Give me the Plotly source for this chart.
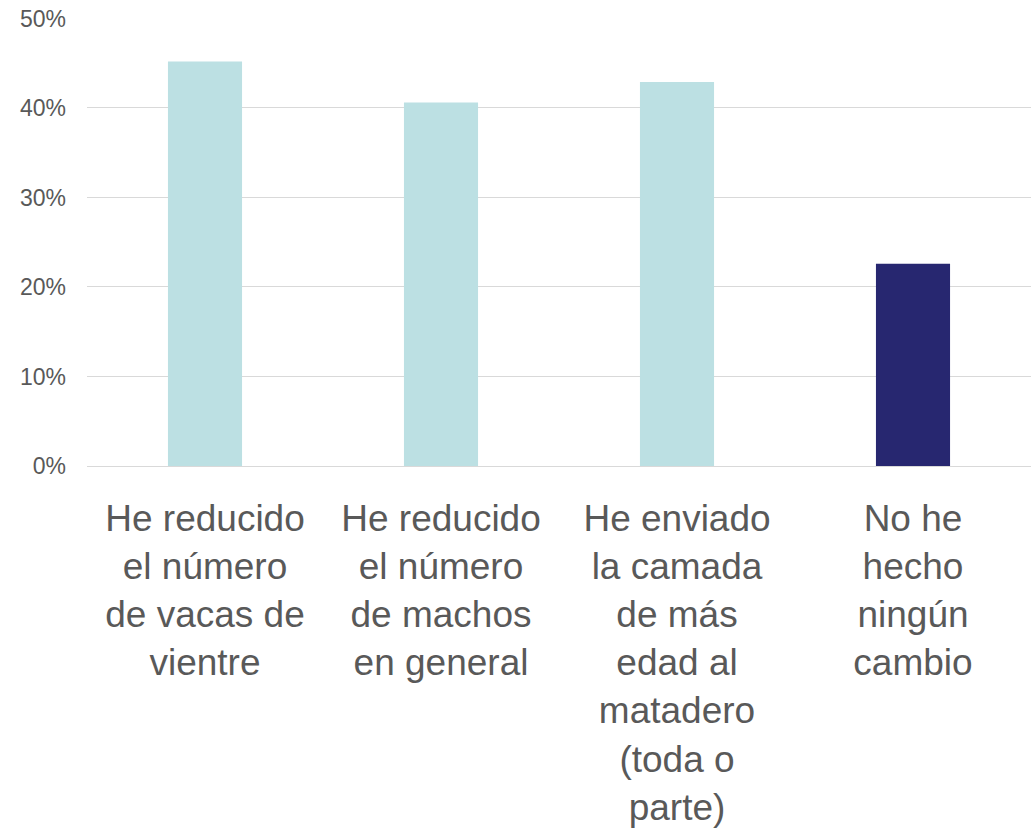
import plotly.graph_objects as go

# Survey answers (share of respondents)
categories = [
    "He reducido<br>el número<br>de vacas de<br>vientre",
    "He reducido<br>el número<br>de machos<br>en general",
    "He enviado<br>la camada<br>de más<br>edad al<br>matadero<br>(toda o<br>parte)",
    "No he<br>hecho<br>ningún<br>cambio",
]
shares = [0.452, 0.406, 0.429, 0.226]
bar_colors = ["#BCE0E3", "#BCE0E3", "#BCE0E3", "#272770"]
y_ticks = [0, 0.1, 0.2, 0.3, 0.4, 0.5]
y_labels = ["0%", "10%", "20%", "30%", "40%", "50%"]

TEXT_GREY = "#595959"
GRID_GREY = "#D9D9D9"

fig = go.Figure()
fig.add_trace(go.Bar(
    x=categories,
    y=shares,
    marker=dict(color=bar_colors, line=dict(width=0)),
    hoverinfo="skip",
))

fig.update_layout(
    width=1036,
    height=831,
    paper_bgcolor="white",
    plot_bgcolor="white",
    margin=dict(t=18, b=365, l=87, r=5, autoexpand=False),
    bargap=0.686,
    showlegend=False,
    font=dict(family="Liberation Sans, Arial, sans-serif", color=TEXT_GREY),
    xaxis=dict(
        showgrid=False,
        showline=False,
        ticks="",
        tickangle=0,
        automargin=False,
        tickfont=dict(size=37, color=TEXT_GREY),
        ticklabelstandoff=27,
    ),
    yaxis=dict(
        range=[0, 0.5005],
        tickmode="array",
        tickvals=y_ticks,
        ticktext=y_labels,
        showgrid=True,
        gridcolor=GRID_GREY,
        gridwidth=1,
        zeroline=True,
        zerolinecolor=GRID_GREY,
        zerolinewidth=1,
        showline=False,
        automargin=False,
        ticklabeloverflow="allow",
        tickfont=dict(size=23, color=TEXT_GREY),
        ticklabelstandoff=20,
    ),
)

# drop the default 8px body margin so the figure fills the window exactly
fig.write_html(
    "out.html",
    config={"displayModeBar": False},
    post_script="document.body.style.margin = '0';",
)
